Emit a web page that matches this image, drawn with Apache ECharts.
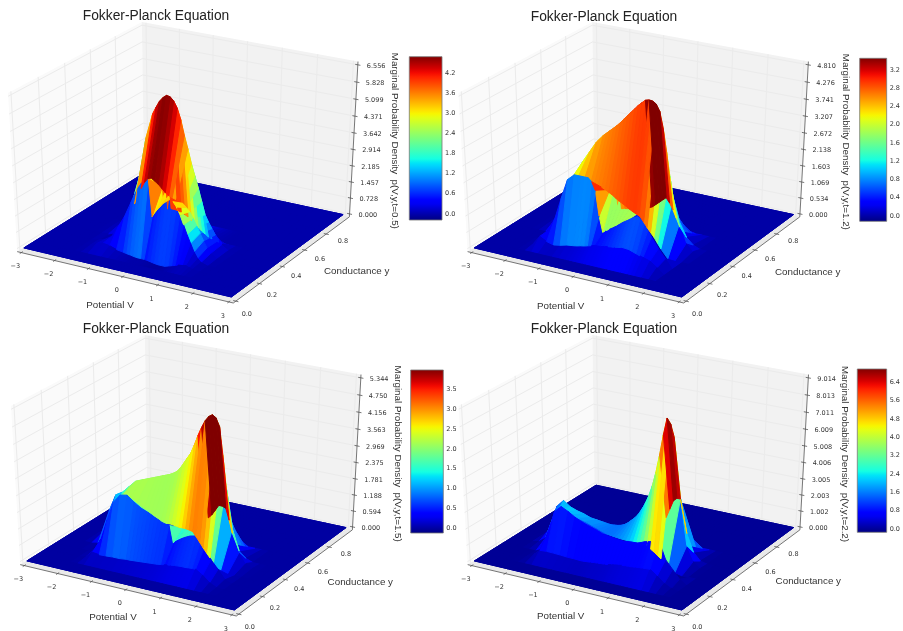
<!DOCTYPE html>
<html><head><meta charset="utf-8">
<style>html,body{margin:0;background:#fff}#c{width:903px;height:631px;filter:blur(.4px)}</style>
<script src="https://cdn.jsdelivr.net/npm/echarts@6/dist/echarts.min.js"></script>
</head><body><div id="c"></div>
<script>
// ---------- data ----------
const V_GRID=[-3,-2.8,-2.6,-2.4,-2.2,-2,-1.8,-1.6,-1.4,-1.2,-1,-.8,-.6,-.5,-.4,-.3,-.2,-.1,0,.1,.2,.3,.4,.5,.6,.7,.8,.9,1,1.1,1.2,1.3,1.4,1.6,1.8,2,2.2,2.4,2.6,2.8,3];
const Y_GRID=[0,.08,.15,.22,.3,.4,.46,.6,.8,1];
const V_TICKS=[-3,-2,-1,0,1,2,3];
const Y_TICKS=[0,.2,.4,.6,.8];
// rows of z along V_GRID; rows not listed (y=0, .08, .6, .8, 1) are flat at zero
const T05_Y15=[0,0,0,0,0,0,0,.05,.2,.3,.25,.15, .1,.07,.05,.02,0,0,0,-.02,-.05,-.08,-.1,-.1,-.1,-.05,0,.05,.1,.12,.15,.1,.05, 0,0,0,0,0,0,0,0];
const T05_Y22=[0,0,0,0,0,0,0,.05,.15,.35,.85,1.4, 2.1,2.45,2.75,3,3.1,3.25,1.65,1.9,2.1,2.3,2.45,2.5,2.5,2.3,2,1.6,1.2,.85,.5,.25,.1, 0,0,0,0,0,0,0,0];
const T05_Y30=[0,0,0,0,0,0,0,.03,.15,.45,.95,1.65, 2.4,2.7,2.9,2.95,2.85,2.75,2.6,2.45,2.35,2.3,2.25,2.2,2.15,2,1.85,1.6,1.3,1,.7,.42,.2, .03,0,0,0,0,0,0,0];
const T05_Y40=[0,0,0,0,0,0,.02,.15,.55,1.25,2.5,4.2, 5.28,5.59,5.87,6.05,6.17,6.14,6,5.73,5.27,4.64,4.1,3.5,3,2.5,1.95,1.4,1.1,.85,.6,.4,.25, .05,0,0,0,0,0,0,0];
const T05_Y46=[0,0,0,0,0,0,0,0,.05,.15,.35,.6, .85,.95,1,1.05,1.05,1.03,1,.93,.85,.72,.6,.47,.35,.25,.15,.1,.05,.02,0,0,0, 0,0,0,0,0,0,0,0];

const T12_Y15=[0,0,0,0,0,0,.05,.34,.22,.16,.2,.26, .29,.31,.34,.36,.39,.42,.45,.46,.47,.5,.52,.53,.55,.57,.6,.59,.58,.54,.5,.46,.43, .36,.2,0,0,0,0,0,0];
const T12_Y22=[0,0,0,0,0,0,.05,.36,.8,1.5,2.15,2.35, 2.35,2.35,2.35,2.25,2,1.2,.7,.78,.85,.92,1,1.09,1.18,1.25,1.33,1.4,1.45,1.4,1.3,1.1,.9, .58,.3,0,0,0,0,0,0];
const T12_Y30=[0,0,0,0,0,0,.1,.6,1.4,1.9,2,2.02, 2,1.96,1.92,1.87,1.82,1.76,1.7,1.62,1.55,1.49,1.43,1.36,1.3,1.25,1.2,1.05,.9,.76,.63,.46,.3, .03,0,0,0,0,0,0,0];
const T12_Y40=[0,0,0,0,.03,.25,.9,1.35,1.8,2.25,2.6,2.95, 3.2,3.3,3.4,3.5,3.6,3.72,3.85,3.97,4.1,4.22,4.35,4.45,4.55,4.58,4.57,4.5,4.3,3.8,3.1,2.35,1.7, .95,.33,.1,0,0,0,0,0];
const T12_Y46=[0,0,0,0,0,0,0,.05,.2,.35,.5,.6, .7,.72,.75,.77,.8,.82,.85,.87,.9,.92,.95,1,1.05,1.15,1.25,1.35,1.45,1.3,1.1,.85,.6, .3,.1,0,0,0,0,0,0];

const T15_Y15=[0,0,0,0,0,0,.05,.27,.24,.25,.27,.27, .3,.3,.31,.32,.33,.34,.35,.36,.37,.38,.4,.42,.44,.46,.48,.49,.5,.5,.51,.52,.52, .36,.15,.03,0,0,0,0,0];
const T15_Y22=[0,0,0,0,0,0,.13,.55,1.3,2,2.3,2.35, 2.16,2.08,2,1.95,1.9,1.84,1.77,1.72,1.65,1.62,1.6,.95,1.09,1.18,1.26,1.33,1.39,1.42,1.45,1.28,1.08, .71,.42,.1,0,0,0,0,0];
const T15_Y30=[0,0,0,0,0,.05,.3,1,1.7,2.05,2,1.85, 1.72,1.66,1.6,1.54,1.48,1.44,1.4,1.37,1.35,1.33,1.31,1.31,1.31,1.29,1.26,1.1,.93,.76,.6,.45,.3, .05,0,0,0,0,0,0,0];
const T15_Y40=[0,0,0,0,.15,1,1.6,1.75,2,2.25,2.35,2.45, 2.55,2.6,2.65,2.7,2.75,2.82,2.9,3.05,3.25,3.45,3.65,3.95,4.3,4.6,4.85,5.02,5.1,5.02,4.75,3.8,2.75, 1.3,.5,.15,.03,0,0,0,0];
const T15_Y46=[0,0,0,0,0,0,.05,.2,.4,.55,.65,.7, .72,.73,.75,.77,.8,.82,.85,.87,.9,.9,.9,1,1.15,1.27,1.4,1.6,1.8,1.8,1.75,1.35,.9, .32,.1,0,0,0,0,0,0];

const T22_Y15=[0,0,0,0,0,.03,.2,.58,.61,.6,.58,.55, .54,.53,.52,.53,.55,.57,.6,.61,.63,.65,.67,.71,.75,.78,.82,.84,.85,.87,.9,.92,.94, .97,.66,.3,.1,0,0,0,0];
const T22_Y22=[0,0,0,0,0,0,.2,1.3,2.7,3.1,2.9,2.64, 2.45,2.37,2.3,2.23,2.16,2.08,2,1.97,1.95,1.92,1.9,1.87,1.85,1.87,1.9,1.91,1.93,2,2.1,2.15,2.2, 2.4,1.3,.8,.3,0,0,0,0];
const T22_Y30=[0,0,0,0,.1,.4,1.5,2.3,2.3,2.22,2.1,2, 1.85,1.78,1.7,1.62,1.55,1.5,1.47,1.44,1.42,1.41,1.4,1.39,1.38,1.42,1.45,1.4,1.33,1.2,1.07,.9,.75, .36,.1,0,0,0,0,0,0];
const T22_Y40=[0,0,0,.02,.5,1.9,2.35,2.05,1.9,1.8,1.65,1.6, 1.55,1.52,1.5,1.52,1.55,1.6,1.7,1.85,2.05,2.25,2.5,2.85,3.25,3.75,4.4,5.25,6.3,7.5,8.5,8.2,7.5, 4,1.25,.4,.05,0,0,0,0];
const T22_Y46=[0,0,0,0,0,0,.1,.3,.4,.45,.45,.45, .45,.45,.45,.47,.5,.52,.55,.57,.6,.65,.7,.85,1,1.3,1.6,1.95,2.3,2.85,3.4,3.6,3.6, 1.6,.55,.1,0,0,0,0,0];

const ZT05=['0.000','0.728','1.457','2.185','2.914','3.642','4.371','5.099','5.828','6.556'];
const ZT12=['0.000','0.534','1.069','1.603','2.138','2.672','3.207','3.741','4.276','4.810'];
const ZT15=['0.000','0.594','1.188','1.781','2.375','2.969','3.563','4.156','4.750','5.344'];
const ZT22=['0.000','1.002','2.003','3.005','4.006','5.008','6.009','7.011','8.013','9.014'];
const CB05=[0,.6,1.2,1.8,2.4,3,3.6,4.2];
const CB12=[0,.4,.8,1.2,1.6,2,2.4,2.8,3.2];
const CB15=[0,.5,1,1.5,2,2.5,3,3.5];
const CB22=[0,.8,1.6,2.4,3.2,4,4.8,5.6,6.4];
// colour weight of each y band of the mesh, per panel
const TONE05=[1,1,.6,1.4,1.03,1.1,1,1,1];
const TONE12=[1,1,.6,1.5,1,1.2,1,1,1];
const TONE15=[1,1,.6,1.3,1,1.25,1,1,1];
const TONE22=[1,1,.5,1.3,1,1.15,1,1,1];
// draw-order nudge of the y band behind the ridge
const BAND_DEPTH=[0,0,0,0,0,.07,0,0,0];

// ---------- layout ----------
const FONT_T='"Liberation Sans"', FONT_N='"DejaVu Sans"';
const BOX={l:8,r:358,t:22,b:303};
const PANELS=[
 {t:'0.5',dx:0,dy:0,rows:[T05_Y15,T05_Y22,T05_Y30,T05_Y40,T05_Y46],tone:TONE05,zt:ZT05,cb:CB05,cmin:-.18,cmax:4.68,bar:[409.3,56.7,32.7,163.3],title:[156,17],vt:[110,306],yt:[356.7,272.3],zx:[394.3,140.8]},
 {t:'1.2',dx:450.4,dy:0,rows:[T12_Y15,T12_Y22,T12_Y30,T12_Y40,T12_Y46],tone:TONE12,zt:ZT12,cb:CB12,cmin:-.12,cmax:3.46,bar:[859.7,58.3,32.6,163],title:[604,18],vt:[560.7,307.7],yt:[807.7,273.3],zx:[845.7,141.8]},
 {t:'1.5',dx:3,dy:313,rows:[T15_Y15,T15_Y22,T15_Y30,T15_Y40,T15_Y46],tone:TONE15,zt:ZT15,cb:CB15,cmin:-.12,cmax:3.99,bar:[410.7,370,32.6,163],title:[156,329.7],vt:[113,618.7],yt:[360.3,583.7],zx:[397.3,453.7]},
 {t:'2.2',dx:450.5,dy:313,rows:[T22_Y15,T22_Y22,T22_Y30,T22_Y40,T22_Y46],tone:TONE22,zt:ZT22,cb:CB22,cmin:-.14,cmax:6.98,bar:[857.3,369,32.7,163.3],title:[604,329.7],vt:[560.7,617.7],yt:[808.3,582.3],zx:[844.3,454]}
];

// ---------- mplot3d view: elev 30, azim -60, dist 10 ----------
const EL=30*Math.PI/180, AZ=-60*Math.PI/180, DIST=10;
const E=[.5+DIST*Math.cos(AZ)*Math.cos(EL),.5+DIST*Math.sin(AZ)*Math.cos(EL),.5+DIST*Math.sin(EL)];
const norm=a=>{const l=Math.hypot(...a);return a.map(v=>v/l)};
const cross=(a,b)=>[a[1]*b[2]-a[2]*b[1],a[2]*b[0]-a[0]*b[2],a[0]*b[1]-a[1]*b[0]];
const dot=(a,b)=>a[0]*b[0]+a[1]*b[1]+a[2]*b[2];
const N=norm([E[0]-.5,E[1]-.5,E[2]-.5]), U=norm(cross([0,0,1],N)), W=cross(N,U);
function proj(x,y,z){const d=[x-E[0],y-E[1],z-E[2]];const zv=dot(N,d);return [dot(U,d)/-zv,dot(W,d)/-zv,DIST/zv];}
const PAD=1/48;
const corners=[];
[-PAD,1+PAD].forEach(x=>[-PAD,1+PAD].forEach(y=>[-PAD,1+PAD].forEach(z=>corners.push(proj(x,y,z)))));
const PX=[Math.min(...corners.map(c=>c[0])),Math.max(...corners.map(c=>c[0]))];
const PY=[Math.min(...corners.map(c=>c[1])),Math.max(...corners.map(c=>c[1]))];
const PX2=(BOX.r-BOX.l)/(PX[1]-PX[0])*(BOX.b-BOX.t)/(PY[1]-PY[0]);

// ---------- jet ----------
function seg(t,s){for(let i=1;i<s.length;i++){if(t<=s[i][0]){const a=s[i-1],b=s[i];return a[1]+(b[1]-a[1])*(t-a[0])/(b[0]-a[0]);}}return s[s.length-1][1];}
const JR=[[0,0],[.35,0],[.66,1],[.89,1],[1,.5]],JG=[[0,0],[.125,0],[.375,1],[.64,1],[.91,0],[1,0]],JB=[[0,.5],[.11,1],[.34,1],[.65,0],[1,0]];
function jet(t){t=Math.max(0,Math.min(1,t));return 'rgb('+[JR,JG,JB].map(s=>Math.round(255*seg(t,s))).join(',')+')';}
const JET_STOPS=[];for(let i=0;i<=40;i++)JET_STOPS.push({offset:i/40,color:jet(1-i/40)});

// ---------- build surface faces, painter-sorted like mplot3d ----------
function zRows(p){const zero=V_GRID.map(()=>0);return [zero,zero,p.rows[0],p.rows[1],p.rows[2],p.rows[3],p.rows[4],zero,zero,zero];}
function area(pts){let s=0;for(let i=0;i<pts.length;i++){const a=pts[i],b=pts[(i+1)%pts.length];s+=a[0]*b[1]-b[0]*a[1];}return s/2;}
function buildFaces(p){
 const zmax=parseFloat(p.zt[p.zt.length-1]);const rows=zRows(p);const out=[];
 const floorFill=jet((0-p.cmin)/(p.cmax-p.cmin));
 for(let j=0;j<Y_GRID.length-1;j++)for(let i=0;i<V_GRID.length-1;i++){
  const q=[[i,j],[i+1,j],[i+1,j+1],[i,j+1]];
  const pts=q.map(([a,b])=>proj((V_GRID[a]+3)/6,Y_GRID[b],rows[b][a]/zmax));
  if(j===3&&area(pts)*PX2*(V_GRID[1]-V_GRID[0])/(V_GRID[i+1]-V_GRID[i])<40)continue;
  const depth=pts.reduce((s,c)=>s+c[2],0)/4-.1*BAND_DEPTH[j];
  const mean=q.reduce((s,[a,b])=>s+rows[b][a],0)/4*p.tone[j];
  out.push({pts,depth,fill:jet((mean-p.cmin)/(p.cmax-p.cmin))});
 }
 out.sort((a,b)=>b.depth-a.depth);
 out.unshift({pts:[proj(0,0,0),proj(1,0,0),proj(1,1,0),proj(0,1,0)],depth:0,fill:floorFill});
 return out;
}
// ---------- frame: panes, grid lines, axes, ticks, labels ----------
function buildFrame(p){
 const zmax=parseFloat(p.zt[p.zt.length-1]);const e=[];
 const lo=-PAD,hi=1+PAD;
 const poly=(a,fill)=>e.push({k:'poly',pts:a.map(c=>proj(...c)),fill});
 const line=(a,b,color,w)=>e.push({k:'line',a:proj(...a),b:proj(...b),color,w});
 poly([[lo,lo,lo],[lo,hi,lo],[lo,hi,hi],[lo,lo,hi]],'#fafafa');
 poly([[lo,hi,lo],[hi,hi,lo],[hi,hi,hi],[lo,hi,hi]],'#f2f2f2');
 poly([[lo,lo,lo],[hi,lo,lo],[hi,hi,lo],[lo,hi,lo]],'#e9e9e9');
 const GC='#ebebeb';
 V_TICKS.forEach(v=>{const x=(v+3)/6;line([x,lo,lo],[x,hi,lo],GC,1);line([x,hi,lo],[x,hi,hi],GC,1);});
 Y_TICKS.forEach(y=>{line([lo,y,lo],[hi,y,lo],GC,1);line([lo,y,lo],[lo,y,hi],GC,1);});
 p.zt.forEach(t=>{const z=parseFloat(t)/zmax;line([lo,lo,z],[lo,hi,z],GC,1);line([lo,hi,z],[hi,hi,z],GC,1);});
 const AC='#555';
 line([lo,lo,lo],[hi,lo,lo],AC,.8);line([hi,lo,lo],[hi,hi,lo],AC,.8);line([hi,hi,lo],[hi,hi,hi],AC,.8);
 V_TICKS.forEach(v=>{const x=(v+3)/6;line([x,lo-.012,lo],[x,lo+.012,lo],AC,.8);
  e.push({k:'text',at:proj(x,lo,lo),ox:-6,oy:14,text:String(v).replace('-','\u2212'),font:'6.5px '+FONT_N,align:'center'});});
 Y_TICKS.forEach(y=>{line([hi-.012,y,lo],[hi+.012,y,lo],AC,.8);
  e.push({k:'text',at:proj(hi,y,lo),ox:11+y*7,oy:13-y*7,text:y.toFixed(1),font:'6.5px '+FONT_N,align:'center'});});
 p.zt.forEach(t=>{const z=parseFloat(t)/zmax;line([hi-.012,hi,z],[hi+.012,hi,z],AC,.8);
  e.push({k:'text',at:proj(hi,hi,z),ox:9,oy:1,text:t,font:'6.5px '+FONT_N,align:'left'});});
 return e;
}
// ---------- option ----------
const grids=[],xs=[],ys=[],series=[],titles=[];
PANELS.forEach((p,n)=>{
 grids.push({left:BOX.l+p.dx,top:BOX.t+p.dy,width:BOX.r-BOX.l,height:BOX.b-BOX.t});
 xs.push({type:'value',gridIndex:n*2,min:PX[0],max:PX[1],show:false,scale:true});
 ys.push({type:'value',gridIndex:n*2,min:PY[0],max:PY[1],show:false,scale:true});
 grids.push({left:p.bar[0],top:p.bar[1],width:p.bar[2],height:p.bar[3]});
 xs.push({type:'value',gridIndex:n*2+1,min:0,max:1,show:false});
 ys.push({type:'value',gridIndex:n*2+1,min:p.cmin,max:p.cmax,position:'right',splitLine:{show:false},
   axisLine:{show:false},axisTick:{show:false,customValues:p.cb},
   axisLabel:{customValues:p.cb,margin:3,color:'#333',fontFamily:FONT_N,fontSize:6.5,formatter:v=>(+v).toFixed(1)}});
 const frame=buildFrame(p), faces=buildFaces(p);
 series.push({type:'custom',xAxisIndex:n*2,yAxisIndex:n*2,z:1,silent:true,clip:false,animation:false,progressive:0,
  encode:{x:0,y:1},data:frame.map((f,i)=>[(PX[0]+PX[1])/2,(PY[0]+PY[1])/2,i]),
  renderItem:(par,api)=>{const f=frame[api.value(2)];
   if(f.k==='poly')return {type:'polygon',shape:{points:f.pts.map(c=>api.coord([c[0],c[1]]))},style:{fill:f.fill}};
   if(f.k==='line'){const a=api.coord([f.a[0],f.a[1]]),b=api.coord([f.b[0],f.b[1]]);return {type:'line',shape:{x1:a[0],y1:a[1],x2:b[0],y2:b[1]},style:{stroke:f.color,lineWidth:f.w}};}
   const c=api.coord([f.at[0],f.at[1]]);return {type:'text',style:{x:c[0]+f.ox,y:c[1]+f.oy,text:f.text,font:f.font,fill:'#333',textAlign:f.align,textVerticalAlign:'middle'}};}});
 series.push({type:'custom',xAxisIndex:n*2,yAxisIndex:n*2,z:2,silent:true,clip:false,animation:false,progressive:0,
  encode:{x:0,y:1},data:faces.map((f,i)=>[f.pts[0][0],f.pts[0][1],i]),
  renderItem:(par,api)=>{const f=faces[api.value(2)];
   return {type:'polygon',shape:{points:f.pts.map(c=>api.coord([c[0],c[1]]))},style:{fill:f.fill,stroke:f.fill,lineWidth:1}};}});
 series.push({type:'custom',xAxisIndex:n*2+1,yAxisIndex:n*2+1,z:2,silent:true,clip:false,animation:false,
  encode:{x:0,y:[1,2]},data:[[0,p.cmin,p.cmax]],
  renderItem:(par,api)=>{const a=api.coord([0,api.value(2)]),b=api.coord([1,api.value(1)]);
   return {type:'rect',shape:{x:a[0],y:a[1],width:b[0]-a[0],height:b[1]-a[1]},
    style:{fill:new echarts.graphic.LinearGradient(0,0,0,1,JET_STOPS),stroke:'#777',lineWidth:.8}};}});
 titles.push({text:'Fokker-Planck Equation',left:p.title[0],top:p.title[1]-8,textAlign:'center',padding:0,textStyle:{fontFamily:FONT_T,fontSize:13.8,fontWeight:'normal',color:'#222'}});
 titles.push({text:'Potential V',left:p.vt[0],top:p.vt[1]-6,textAlign:'center',padding:0,textStyle:{fontFamily:FONT_T,fontSize:9.8,fontWeight:'normal',color:'#333'}});
 titles.push({text:'Conductance y',left:p.yt[0],top:p.yt[1]-6,textAlign:'center',padding:0,textStyle:{fontFamily:FONT_T,fontSize:9.8,fontWeight:'normal',color:'#333'}});
});
const chart=echarts.init(document.getElementById('c'),null,{renderer:'canvas'});
chart.setOption({animation:false,backgroundColor:'#fff',title:titles,grid:grids,xAxis:xs,yAxis:ys,series,
 graphic:PANELS.map(p=>({type:'text',x:p.zx[0],y:p.zx[1],rotation:-Math.PI/2,silent:true,
   style:{text:'Marginal Probability Density  p(V,y,t='+p.t+')',font:'9.8px '+FONT_T,fill:'#333',textAlign:'center',textVerticalAlign:'middle'}}))});
</script></body></html>
